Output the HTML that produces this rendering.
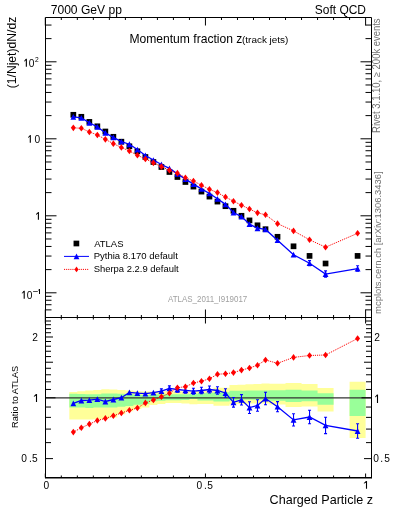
<!DOCTYPE html>
<html><head><meta charset="utf-8"><style>html,body{margin:0;padding:0;background:#fff;width:393px;height:512px;overflow:hidden}svg{display:block} text{-webkit-font-smoothing:antialiased}</style></head>
<body><svg width="393" height="512" viewBox="0 0 393 512">
<rect width="393" height="512" fill="#fff"/>
<path d="M69.32,391.90 L77.33,391.90 L77.33,391.30 L85.34,391.30 L85.34,390.60 L93.34,390.60 L93.34,390.10 L101.35,390.10 L101.35,389.30 L109.36,389.30 L109.36,389.50 L117.37,389.50 L117.37,389.90 L125.38,389.90 L125.38,390.40 L133.38,390.40 L133.38,391.20 L141.39,391.20 L141.39,391.50 L149.40,391.50 L149.40,391.50 L157.40,391.50 L157.41,391.30 L165.41,391.30 L165.41,391.20 L173.42,391.20 L173.42,391.20 L181.43,391.20 L181.43,391.20 L189.44,391.20 L189.44,391.20 L197.44,391.20 L197.44,390.50 L205.45,390.50 L205.45,390.50 L213.46,390.50 L213.46,387.70 L221.47,387.70 L221.47,387.70 L229.47,387.70 L229.47,385.10 L237.48,385.10 L237.48,384.70 L245.49,384.70 L245.49,384.20 L253.50,384.20 L253.50,384.00 L261.50,384.00 L261.50,383.60 L269.51,383.60 L269.51,383.70 L285.53,383.70 L285.53,383.00 L301.54,383.00 L301.54,384.00 L317.56,384.00 L317.56,388.00 L333.57,388.00 L333.57,411.50 L317.56,411.50 L317.56,406.60 L301.54,406.60 L301.54,407.00 L285.53,407.00 L285.53,404.40 L269.51,404.40 L269.51,403.60 L261.50,403.60 L261.50,403.60 L253.50,403.60 L253.50,403.60 L245.49,403.60 L245.49,404.00 L237.48,404.00 L237.48,404.30 L229.47,404.30 L229.47,405.70 L221.47,405.70 L221.47,405.70 L213.46,405.70 L213.46,404.00 L205.45,404.00 L205.45,404.00 L197.44,404.00 L197.44,404.20 L189.44,404.20 L189.44,403.40 L181.43,403.40 L181.43,402.90 L173.42,402.90 L173.42,402.90 L165.41,402.90 L165.41,403.90 L157.41,403.90 L157.40,404.90 L149.40,404.90 L149.40,407.40 L141.39,407.40 L141.39,409.00 L133.38,409.00 L133.38,411.20 L125.38,411.20 L125.38,414.30 L117.37,414.30 L117.37,417.50 L109.36,417.50 L109.36,418.80 L101.35,418.80 L101.35,419.20 L93.34,419.20 L93.34,419.40 L85.34,419.40 L85.34,419.40 L77.33,419.40 L77.33,419.40 L69.32,419.40ZM349.58,381.70 L365.60,381.70 L365.60,438.10 L349.58,438.10Z" fill="#ffff99"/>
<path d="M69.32,393.70 L77.33,393.70 L77.33,394.00 L85.34,394.00 L85.34,394.20 L93.34,394.20 L93.34,394.20 L101.35,394.20 L101.35,393.40 L109.36,393.40 L109.36,393.40 L117.37,393.40 L117.37,393.70 L125.38,393.70 L125.38,394.00 L133.38,394.00 L133.38,394.60 L141.39,394.60 L141.39,395.00 L149.40,395.00 L149.40,394.20 L157.40,394.20 L157.41,394.20 L165.41,394.20 L165.41,394.20 L173.42,394.20 L173.42,394.20 L181.43,394.20 L181.43,394.20 L189.44,394.20 L189.44,394.00 L197.44,394.00 L197.44,393.20 L205.45,393.20 L205.45,393.10 L213.46,393.10 L213.46,392.20 L221.47,392.20 L221.47,392.20 L229.47,392.20 L229.47,390.70 L237.48,390.70 L237.48,390.70 L245.49,390.70 L245.49,390.50 L253.50,390.50 L253.50,390.50 L261.50,390.50 L261.50,390.50 L269.51,390.50 L269.51,390.30 L285.53,390.30 L285.53,389.80 L301.54,389.80 L301.54,390.60 L317.56,390.60 L317.56,393.20 L333.57,393.20 L333.57,404.80 L317.56,404.80 L317.56,401.30 L301.54,401.30 L301.54,402.00 L285.53,402.00 L285.53,400.80 L269.51,400.80 L269.51,399.80 L261.50,399.80 L261.50,399.80 L253.50,399.80 L253.50,399.80 L245.49,399.80 L245.49,399.80 L237.48,399.80 L237.48,400.60 L229.47,400.60 L229.47,401.40 L221.47,401.40 L221.47,401.40 L213.46,401.40 L213.46,400.60 L205.45,400.60 L205.45,400.60 L197.44,400.60 L197.44,399.10 L189.44,399.10 L189.44,400.00 L181.43,400.00 L181.43,400.30 L173.42,400.30 L173.42,400.30 L165.41,400.30 L165.41,400.80 L157.41,400.80 L157.40,401.30 L149.40,401.30 L149.40,403.90 L141.39,403.90 L141.39,404.80 L133.38,404.80 L133.38,406.00 L125.38,406.00 L125.38,406.70 L117.37,406.70 L117.37,407.40 L109.36,407.40 L109.36,407.40 L101.35,407.40 L101.35,407.60 L93.34,407.60 L93.34,408.00 L85.34,408.00 L85.34,407.60 L77.33,407.60 L77.33,407.60 L69.32,407.60ZM349.58,389.80 L365.60,389.80 L365.60,416.00 L349.58,416.00Z" fill="#99ff99"/>
<line x1="45.5" y1="397.9" x2="371.5" y2="397.9" stroke="#333" stroke-width="1.25"/>
<path d="M45.5,309.88h6M371.5,309.88h-6M45.5,304.73h6M371.5,304.73h-6M45.5,300.26h6M371.5,300.26h-6M45.5,296.32h6M371.5,296.32h-6M45.5,292.80h11M371.5,292.80h-11M45.5,269.62h6M371.5,269.62h-6M45.5,256.06h6M371.5,256.06h-6M45.5,246.44h6M371.5,246.44h-6M45.5,238.98h6M371.5,238.98h-6M45.5,232.88h6M371.5,232.88h-6M45.5,227.73h6M371.5,227.73h-6M45.5,223.26h6M371.5,223.26h-6M45.5,219.32h6M371.5,219.32h-6M45.5,215.80h11M371.5,215.80h-11M45.5,192.62h6M371.5,192.62h-6M45.5,179.06h6M371.5,179.06h-6M45.5,169.44h6M371.5,169.44h-6M45.5,161.98h6M371.5,161.98h-6M45.5,155.88h6M371.5,155.88h-6M45.5,150.73h6M371.5,150.73h-6M45.5,146.26h6M371.5,146.26h-6M45.5,142.32h6M371.5,142.32h-6M45.5,138.80h11M371.5,138.80h-11M45.5,115.62h6M371.5,115.62h-6M45.5,102.06h6M371.5,102.06h-6M45.5,92.44h6M371.5,92.44h-6M45.5,84.98h6M371.5,84.98h-6M45.5,78.88h6M371.5,78.88h-6M45.5,73.73h6M371.5,73.73h-6M45.5,69.26h6M371.5,69.26h-6M45.5,65.32h6M371.5,65.32h-6M45.5,61.80h11M371.5,61.80h-11M45.5,38.62h6M371.5,38.62h-6M45.5,25.06h6M371.5,25.06h-6M45.5,458.61h7.5M371.5,458.61h-7.5M45.5,442.61h5.5M371.5,442.61h-5.5M45.5,429.09h5.5M371.5,429.09h-5.5M45.5,417.38h5.5M371.5,417.38h-5.5M45.5,407.04h5.5M371.5,407.04h-5.5M45.5,397.80h10M371.5,397.80h-10M45.5,389.44h5.5M371.5,389.44h-5.5M45.5,381.81h5.5M371.5,381.81h-5.5M45.5,374.78h5.5M371.5,374.78h-5.5M45.5,368.28h5.5M371.5,368.28h-5.5M45.5,362.23h7.5M371.5,362.23h-7.5M45.5,356.57h5.5M371.5,356.57h-5.5M45.5,351.25h5.5M371.5,351.25h-5.5M45.5,346.23h5.5M371.5,346.23h-5.5M45.5,341.49h5.5M371.5,341.49h-5.5M45.5,336.99h7.5M371.5,336.99h-7.5M45.5,332.71h5.5M371.5,332.71h-5.5M45.5,328.63h5.5M371.5,328.63h-5.5M45.5,324.73h5.5M371.5,324.73h-5.5M45.5,321.00h5.5M371.5,321.00h-5.5M45.30,17.5v8M45.30,317.5v-8M45.30,317.5v6M45.30,477.5v-4M61.31,17.5v2.5M61.31,317.5v-2.5M61.31,317.5v2M61.31,477.5v-2M77.33,17.5v2.5M77.33,317.5v-2.5M77.33,317.5v2M77.33,477.5v-2M93.34,17.5v2.5M93.34,317.5v-2.5M93.34,317.5v2M93.34,477.5v-2M109.36,17.5v2.5M109.36,317.5v-2.5M109.36,317.5v2M109.36,477.5v-2M125.38,17.5v2.5M125.38,317.5v-2.5M125.38,317.5v2M125.38,477.5v-2M141.39,17.5v2.5M141.39,317.5v-2.5M141.39,317.5v2M141.39,477.5v-2M157.41,17.5v2.5M157.41,317.5v-2.5M157.41,317.5v2M157.41,477.5v-2M173.42,17.5v2.5M173.42,317.5v-2.5M173.42,317.5v2M173.42,477.5v-2M189.44,17.5v2.5M189.44,317.5v-2.5M189.44,317.5v2M189.44,477.5v-2M205.45,17.5v8M205.45,317.5v-8M205.45,317.5v6M205.45,477.5v-4M221.47,17.5v2.5M221.47,317.5v-2.5M221.47,317.5v2M221.47,477.5v-2M237.48,17.5v2.5M237.48,317.5v-2.5M237.48,317.5v2M237.48,477.5v-2M253.50,17.5v2.5M253.50,317.5v-2.5M253.50,317.5v2M253.50,477.5v-2M269.51,17.5v2.5M269.51,317.5v-2.5M269.51,317.5v2M269.51,477.5v-2M285.53,17.5v2.5M285.53,317.5v-2.5M285.53,317.5v2M285.53,477.5v-2M301.54,17.5v2.5M301.54,317.5v-2.5M301.54,317.5v2M301.54,477.5v-2M317.56,17.5v2.5M317.56,317.5v-2.5M317.56,317.5v2M317.56,477.5v-2M333.57,17.5v2.5M333.57,317.5v-2.5M333.57,317.5v2M333.57,477.5v-2M349.59,17.5v2.5M349.59,317.5v-2.5M349.59,317.5v2M349.59,477.5v-2M365.60,17.5v8M365.60,317.5v-8M365.60,317.5v6M365.60,477.5v-4" stroke="#000" stroke-width="1" fill="none"/>
<path d="M45.5,17.5H371.5V478.1M45.5,17.5V478.1 M45.5,317.5H371.5" stroke="#000" stroke-width="1" fill="none"/>
<path d="M45.0,477.85H372.0" stroke="#000" stroke-width="1.5" fill="none"/>
<path d="M73.33,403.40 L81.33,400.50 L89.34,400.10 L97.35,399.10 L105.36,401.50 L113.36,399.50 L121.37,397.70 L129.38,392.40 L137.39,393.20 L145.39,393.70 L153.40,392.70 L161.41,391.20 L169.42,388.30 L177.42,389.50 L185.43,390.30 L193.44,391.20 L201.45,390.50 L209.45,389.50 L217.46,390.50 L225.47,393.00 L233.48,402.30 L241.48,399.80 L249.49,407.60 L257.50,405.50 L265.51,398.50 L277.52,406.70 L293.53,419.90 L309.55,417.00 L325.56,425.40 L357.59,431.00" stroke="#0000ff" stroke-width="1.3" fill="none"/>
<path d="M161.41,388.90V393.50M159.91,388.90h3M159.91,393.50h3" stroke="#0000ff" stroke-width="1.1" fill="none"/>
<path d="M169.42,385.90V390.70M167.92,385.90h3M167.92,390.70h3" stroke="#0000ff" stroke-width="1.1" fill="none"/>
<path d="M177.42,386.90V392.10M175.92,386.90h3M175.92,392.10h3" stroke="#0000ff" stroke-width="1.1" fill="none"/>
<path d="M185.43,387.50V393.10M183.93,387.50h3M183.93,393.10h3" stroke="#0000ff" stroke-width="1.1" fill="none"/>
<path d="M193.44,388.20V394.20M191.94,388.20h3M191.94,394.20h3" stroke="#0000ff" stroke-width="1.1" fill="none"/>
<path d="M201.45,387.20V393.80M199.95,387.20h3M199.95,393.80h3" stroke="#0000ff" stroke-width="1.1" fill="none"/>
<path d="M209.45,386.00V393.00M207.95,386.00h3M207.95,393.00h3" stroke="#0000ff" stroke-width="1.1" fill="none"/>
<path d="M217.46,386.70V394.30M215.96,386.70h3M215.96,394.30h3" stroke="#0000ff" stroke-width="1.1" fill="none"/>
<path d="M225.47,388.70V397.30M223.97,388.70h3M223.97,397.30h3" stroke="#0000ff" stroke-width="1.1" fill="none"/>
<path d="M233.48,397.50V407.10M231.98,397.50h3M231.98,407.10h3" stroke="#0000ff" stroke-width="1.1" fill="none"/>
<path d="M241.48,394.60V405.00M239.98,394.60h3M239.98,405.00h3" stroke="#0000ff" stroke-width="1.1" fill="none"/>
<path d="M249.49,401.70V413.50M247.99,401.70h3M247.99,413.50h3" stroke="#0000ff" stroke-width="1.1" fill="none"/>
<path d="M257.50,399.80V411.20M256.00,399.80h3M256.00,411.20h3" stroke="#0000ff" stroke-width="1.1" fill="none"/>
<path d="M265.51,392.30V404.70M264.01,392.30h3M264.01,404.70h3" stroke="#0000ff" stroke-width="1.1" fill="none"/>
<path d="M277.52,401.60V411.80M276.02,401.60h3M276.02,411.80h3" stroke="#0000ff" stroke-width="1.1" fill="none"/>
<path d="M293.53,413.80V426.00M292.03,413.80h3M292.03,426.00h3" stroke="#0000ff" stroke-width="1.1" fill="none"/>
<path d="M309.55,410.20V423.80M308.05,410.20h3M308.05,423.80h3" stroke="#0000ff" stroke-width="1.1" fill="none"/>
<path d="M325.56,417.20V433.60M324.06,417.20h3M324.06,433.60h3" stroke="#0000ff" stroke-width="1.1" fill="none"/>
<path d="M357.59,423.80V438.20M356.09,423.80h3M356.09,438.20h3" stroke="#0000ff" stroke-width="1.1" fill="none"/>
<path d="M70.43,406.30L76.23,406.30L73.33,400.50Z" fill="#0000ff"/>
<path d="M78.43,403.40L84.23,403.40L81.33,397.60Z" fill="#0000ff"/>
<path d="M86.44,403.00L92.24,403.00L89.34,397.20Z" fill="#0000ff"/>
<path d="M94.45,402.00L100.25,402.00L97.35,396.20Z" fill="#0000ff"/>
<path d="M102.46,404.40L108.26,404.40L105.36,398.60Z" fill="#0000ff"/>
<path d="M110.46,402.40L116.26,402.40L113.36,396.60Z" fill="#0000ff"/>
<path d="M118.47,400.60L124.27,400.60L121.37,394.80Z" fill="#0000ff"/>
<path d="M126.48,395.30L132.28,395.30L129.38,389.50Z" fill="#0000ff"/>
<path d="M134.49,396.10L140.29,396.10L137.39,390.30Z" fill="#0000ff"/>
<path d="M142.49,396.60L148.29,396.60L145.39,390.80Z" fill="#0000ff"/>
<path d="M150.50,395.60L156.30,395.60L153.40,389.80Z" fill="#0000ff"/>
<path d="M158.51,394.10L164.31,394.10L161.41,388.30Z" fill="#0000ff"/>
<path d="M166.52,391.20L172.32,391.20L169.42,385.40Z" fill="#0000ff"/>
<path d="M174.52,392.40L180.32,392.40L177.42,386.60Z" fill="#0000ff"/>
<path d="M182.53,393.20L188.33,393.20L185.43,387.40Z" fill="#0000ff"/>
<path d="M190.54,394.10L196.34,394.10L193.44,388.30Z" fill="#0000ff"/>
<path d="M198.55,393.40L204.35,393.40L201.45,387.60Z" fill="#0000ff"/>
<path d="M206.55,392.40L212.35,392.40L209.45,386.60Z" fill="#0000ff"/>
<path d="M214.56,393.40L220.36,393.40L217.46,387.60Z" fill="#0000ff"/>
<path d="M222.57,395.90L228.37,395.90L225.47,390.10Z" fill="#0000ff"/>
<path d="M230.58,405.20L236.38,405.20L233.48,399.40Z" fill="#0000ff"/>
<path d="M238.58,402.70L244.38,402.70L241.48,396.90Z" fill="#0000ff"/>
<path d="M246.59,410.50L252.39,410.50L249.49,404.70Z" fill="#0000ff"/>
<path d="M254.60,408.40L260.40,408.40L257.50,402.60Z" fill="#0000ff"/>
<path d="M262.61,401.40L268.41,401.40L265.51,395.60Z" fill="#0000ff"/>
<path d="M274.62,409.60L280.42,409.60L277.52,403.80Z" fill="#0000ff"/>
<path d="M290.63,422.80L296.43,422.80L293.53,417.00Z" fill="#0000ff"/>
<path d="M306.65,419.90L312.45,419.90L309.55,414.10Z" fill="#0000ff"/>
<path d="M322.66,428.30L328.46,428.30L325.56,422.50Z" fill="#0000ff"/>
<path d="M354.69,433.90L360.49,433.90L357.59,428.10Z" fill="#0000ff"/>
<path d="M73.33,432.10 L81.33,427.80 L89.34,424.10 L97.35,420.50 L105.36,418.40 L113.36,415.80 L121.37,413.00 L129.38,410.30 L137.39,408.00 L145.39,402.90 L153.40,400.00 L161.41,396.80 L169.42,393.20 L177.42,387.70 L185.43,386.70 L193.44,383.00 L201.45,381.20 L209.45,378.80 L217.46,374.20 L225.47,373.80 L233.48,372.60 L241.48,370.10 L249.49,368.00 L257.50,365.20 L265.51,360.00 L277.52,363.30 L293.53,357.40 L309.55,355.50 L325.56,355.00 L357.59,338.50" stroke="#ff0000" stroke-width="1" stroke-dasharray="1.1,1" fill="none"/>
<path d="M73.33,428.80L75.83,432.10L73.33,435.40L70.83,432.10Z" fill="#ff0000"/>
<path d="M81.33,424.50L83.83,427.80L81.33,431.10L78.83,427.80Z" fill="#ff0000"/>
<path d="M89.34,420.80L91.84,424.10L89.34,427.40L86.84,424.10Z" fill="#ff0000"/>
<path d="M97.35,417.20L99.85,420.50L97.35,423.80L94.85,420.50Z" fill="#ff0000"/>
<path d="M105.36,415.10L107.86,418.40L105.36,421.70L102.86,418.40Z" fill="#ff0000"/>
<path d="M113.36,412.50L115.86,415.80L113.36,419.10L110.86,415.80Z" fill="#ff0000"/>
<path d="M121.37,409.70L123.87,413.00L121.37,416.30L118.87,413.00Z" fill="#ff0000"/>
<path d="M129.38,407.00L131.88,410.30L129.38,413.60L126.88,410.30Z" fill="#ff0000"/>
<path d="M137.39,404.70L139.89,408.00L137.39,411.30L134.89,408.00Z" fill="#ff0000"/>
<path d="M145.39,399.60L147.89,402.90L145.39,406.20L142.89,402.90Z" fill="#ff0000"/>
<path d="M153.40,396.70L155.90,400.00L153.40,403.30L150.90,400.00Z" fill="#ff0000"/>
<path d="M161.41,393.50L163.91,396.80L161.41,400.10L158.91,396.80Z" fill="#ff0000"/>
<path d="M169.42,389.90L171.92,393.20L169.42,396.50L166.92,393.20Z" fill="#ff0000"/>
<path d="M177.42,384.40L179.92,387.70L177.42,391.00L174.92,387.70Z" fill="#ff0000"/>
<path d="M185.43,383.40L187.93,386.70L185.43,390.00L182.93,386.70Z" fill="#ff0000"/>
<path d="M193.44,379.70L195.94,383.00L193.44,386.30L190.94,383.00Z" fill="#ff0000"/>
<path d="M201.45,377.90L203.95,381.20L201.45,384.50L198.95,381.20Z" fill="#ff0000"/>
<path d="M209.45,375.50L211.95,378.80L209.45,382.10L206.95,378.80Z" fill="#ff0000"/>
<path d="M217.46,370.90L219.96,374.20L217.46,377.50L214.96,374.20Z" fill="#ff0000"/>
<path d="M225.47,370.50L227.97,373.80L225.47,377.10L222.97,373.80Z" fill="#ff0000"/>
<path d="M233.48,369.30L235.98,372.60L233.48,375.90L230.98,372.60Z" fill="#ff0000"/>
<path d="M241.48,366.80L243.98,370.10L241.48,373.40L238.98,370.10Z" fill="#ff0000"/>
<path d="M249.49,364.70L251.99,368.00L249.49,371.30L246.99,368.00Z" fill="#ff0000"/>
<path d="M257.50,361.90L260.00,365.20L257.50,368.50L255.00,365.20Z" fill="#ff0000"/>
<path d="M265.51,356.70L268.01,360.00L265.51,363.30L263.01,360.00Z" fill="#ff0000"/>
<path d="M277.52,360.00L280.02,363.30L277.52,366.60L275.02,363.30Z" fill="#ff0000"/>
<path d="M293.53,354.10L296.03,357.40L293.53,360.70L291.03,357.40Z" fill="#ff0000"/>
<path d="M309.55,352.20L312.05,355.50L309.55,358.80L307.05,355.50Z" fill="#ff0000"/>
<path d="M325.56,351.70L328.06,355.00L325.56,358.30L323.06,355.00Z" fill="#ff0000"/>
<path d="M357.59,335.20L360.09,338.50L357.59,341.80L355.09,338.50Z" fill="#ff0000"/>
<rect x="70.48" y="111.95" width="5.70" height="5.70" fill="#000"/>
<rect x="78.48" y="113.95" width="5.70" height="5.70" fill="#000"/>
<rect x="86.49" y="119.05" width="5.70" height="5.70" fill="#000"/>
<rect x="94.50" y="123.45" width="5.70" height="5.70" fill="#000"/>
<rect x="102.51" y="128.65" width="5.70" height="5.70" fill="#000"/>
<rect x="110.51" y="133.95" width="5.70" height="5.70" fill="#000"/>
<rect x="118.52" y="138.85" width="5.70" height="5.70" fill="#000"/>
<rect x="126.53" y="143.45" width="5.70" height="5.70" fill="#000"/>
<rect x="134.54" y="148.45" width="5.70" height="5.70" fill="#000"/>
<rect x="142.54" y="154.15" width="5.70" height="5.70" fill="#000"/>
<rect x="150.55" y="159.15" width="5.70" height="5.70" fill="#000"/>
<rect x="158.56" y="164.15" width="5.70" height="5.70" fill="#000"/>
<rect x="166.57" y="169.15" width="5.70" height="5.70" fill="#000"/>
<rect x="174.57" y="174.15" width="5.70" height="5.70" fill="#000"/>
<rect x="182.58" y="179.15" width="5.70" height="5.70" fill="#000"/>
<rect x="190.59" y="183.75" width="5.70" height="5.70" fill="#000"/>
<rect x="198.60" y="188.75" width="5.70" height="5.70" fill="#000"/>
<rect x="206.60" y="193.75" width="5.70" height="5.70" fill="#000"/>
<rect x="214.61" y="198.75" width="5.70" height="5.70" fill="#000"/>
<rect x="222.62" y="203.35" width="5.70" height="5.70" fill="#000"/>
<rect x="230.63" y="207.95" width="5.70" height="5.70" fill="#000"/>
<rect x="238.63" y="212.95" width="5.70" height="5.70" fill="#000"/>
<rect x="246.64" y="217.55" width="5.70" height="5.70" fill="#000"/>
<rect x="254.65" y="222.45" width="5.70" height="5.70" fill="#000"/>
<rect x="262.66" y="226.35" width="5.70" height="5.70" fill="#000"/>
<rect x="274.67" y="233.95" width="5.70" height="5.70" fill="#000"/>
<rect x="290.68" y="243.45" width="5.70" height="5.70" fill="#000"/>
<rect x="306.70" y="253.05" width="5.70" height="5.70" fill="#000"/>
<rect x="322.71" y="260.65" width="5.70" height="5.70" fill="#000"/>
<rect x="354.74" y="253.05" width="5.70" height="5.70" fill="#000"/>
<path d="M73.33,116.93 L81.33,117.83 L89.34,122.78 L97.35,126.80 L105.36,132.91 L113.36,137.45 L121.37,141.66 L129.38,144.24 L137.39,149.55 L145.39,155.44 L153.40,160.06 L161.41,164.48 L169.42,168.38 L177.42,173.84 L185.43,179.14 L193.44,184.08 L201.45,188.82 L209.45,193.44 L217.46,198.82 L225.47,204.37 L233.48,212.52 L241.48,216.56 L249.49,224.14 L257.50,228.24 L265.51,229.47 L277.52,240.19 L293.53,254.72 L309.55,263.22 L325.56,274.02 L357.59,268.56" stroke="#0000ff" stroke-width="1.3" fill="none"/>
<path d="M309.55,260.63V265.81M308.05,260.63h3M308.05,265.81h3" stroke="#0000ff" stroke-width="1.1" fill="none"/>
<path d="M325.56,270.90V277.15M324.06,270.90h3M324.06,277.15h3" stroke="#0000ff" stroke-width="1.1" fill="none"/>
<path d="M357.59,265.81V271.30M356.09,265.81h3M356.09,271.30h3" stroke="#0000ff" stroke-width="1.1" fill="none"/>
<path d="M70.43,119.83L76.23,119.83L73.33,114.03Z" fill="#0000ff"/>
<path d="M78.43,120.73L84.23,120.73L81.33,114.93Z" fill="#0000ff"/>
<path d="M86.44,125.68L92.24,125.68L89.34,119.88Z" fill="#0000ff"/>
<path d="M94.45,129.70L100.25,129.70L97.35,123.90Z" fill="#0000ff"/>
<path d="M102.46,135.81L108.26,135.81L105.36,130.01Z" fill="#0000ff"/>
<path d="M110.46,140.35L116.26,140.35L113.36,134.55Z" fill="#0000ff"/>
<path d="M118.47,144.56L124.27,144.56L121.37,138.76Z" fill="#0000ff"/>
<path d="M126.48,147.14L132.28,147.14L129.38,141.34Z" fill="#0000ff"/>
<path d="M134.49,152.45L140.29,152.45L137.39,146.65Z" fill="#0000ff"/>
<path d="M142.49,158.34L148.29,158.34L145.39,152.54Z" fill="#0000ff"/>
<path d="M150.50,162.96L156.30,162.96L153.40,157.16Z" fill="#0000ff"/>
<path d="M158.51,167.38L164.31,167.38L161.41,161.58Z" fill="#0000ff"/>
<path d="M166.52,171.28L172.32,171.28L169.42,165.48Z" fill="#0000ff"/>
<path d="M174.52,176.74L180.32,176.74L177.42,170.94Z" fill="#0000ff"/>
<path d="M182.53,182.04L188.33,182.04L185.43,176.24Z" fill="#0000ff"/>
<path d="M190.54,186.98L196.34,186.98L193.44,181.18Z" fill="#0000ff"/>
<path d="M198.55,191.72L204.35,191.72L201.45,185.92Z" fill="#0000ff"/>
<path d="M206.55,196.34L212.35,196.34L209.45,190.54Z" fill="#0000ff"/>
<path d="M214.56,201.72L220.36,201.72L217.46,195.92Z" fill="#0000ff"/>
<path d="M222.57,207.27L228.37,207.27L225.47,201.47Z" fill="#0000ff"/>
<path d="M230.58,215.42L236.38,215.42L233.48,209.62Z" fill="#0000ff"/>
<path d="M238.58,219.46L244.38,219.46L241.48,213.66Z" fill="#0000ff"/>
<path d="M246.59,227.04L252.39,227.04L249.49,221.24Z" fill="#0000ff"/>
<path d="M254.60,231.14L260.40,231.14L257.50,225.34Z" fill="#0000ff"/>
<path d="M262.61,232.37L268.41,232.37L265.51,226.57Z" fill="#0000ff"/>
<path d="M274.62,243.09L280.42,243.09L277.52,237.29Z" fill="#0000ff"/>
<path d="M290.63,257.62L296.43,257.62L293.53,251.82Z" fill="#0000ff"/>
<path d="M306.65,266.12L312.45,266.12L309.55,260.32Z" fill="#0000ff"/>
<path d="M322.66,276.92L328.46,276.92L325.56,271.12Z" fill="#0000ff"/>
<path d="M354.69,271.46L360.49,271.46L357.59,265.66Z" fill="#0000ff"/>
<path d="M73.33,127.87 L81.33,128.24 L89.34,131.93 L97.35,134.95 L105.36,139.35 L113.36,143.66 L121.37,147.49 L129.38,151.06 L137.39,155.19 L145.39,158.94 L153.40,162.84 L161.41,166.62 L169.42,170.25 L177.42,173.15 L185.43,177.77 L193.44,180.96 L201.45,185.27 L209.45,189.36 L217.46,192.60 L225.47,197.05 L233.48,201.19 L241.48,205.24 L249.49,209.04 L257.50,212.87 L265.51,214.79 L277.52,223.65 L293.53,230.90 L309.55,239.78 L325.56,247.19 L357.59,233.30" stroke="#ff0000" stroke-width="1" stroke-dasharray="1.1,1" fill="none"/>
<path d="M73.33,124.57L75.83,127.87L73.33,131.17L70.83,127.87Z" fill="#ff0000"/>
<path d="M81.33,124.94L83.83,128.24L81.33,131.54L78.83,128.24Z" fill="#ff0000"/>
<path d="M89.34,128.63L91.84,131.93L89.34,135.23L86.84,131.93Z" fill="#ff0000"/>
<path d="M97.35,131.65L99.85,134.95L97.35,138.25L94.85,134.95Z" fill="#ff0000"/>
<path d="M105.36,136.05L107.86,139.35L105.36,142.65L102.86,139.35Z" fill="#ff0000"/>
<path d="M113.36,140.36L115.86,143.66L113.36,146.96L110.86,143.66Z" fill="#ff0000"/>
<path d="M121.37,144.19L123.87,147.49L121.37,150.79L118.87,147.49Z" fill="#ff0000"/>
<path d="M129.38,147.76L131.88,151.06L129.38,154.36L126.88,151.06Z" fill="#ff0000"/>
<path d="M137.39,151.89L139.89,155.19L137.39,158.49L134.89,155.19Z" fill="#ff0000"/>
<path d="M145.39,155.64L147.89,158.94L145.39,162.24L142.89,158.94Z" fill="#ff0000"/>
<path d="M153.40,159.54L155.90,162.84L153.40,166.14L150.90,162.84Z" fill="#ff0000"/>
<path d="M161.41,163.32L163.91,166.62L161.41,169.92L158.91,166.62Z" fill="#ff0000"/>
<path d="M169.42,166.95L171.92,170.25L169.42,173.55L166.92,170.25Z" fill="#ff0000"/>
<path d="M177.42,169.85L179.92,173.15L177.42,176.45L174.92,173.15Z" fill="#ff0000"/>
<path d="M185.43,174.47L187.93,177.77L185.43,181.07L182.93,177.77Z" fill="#ff0000"/>
<path d="M193.44,177.66L195.94,180.96L193.44,184.26L190.94,180.96Z" fill="#ff0000"/>
<path d="M201.45,181.97L203.95,185.27L201.45,188.57L198.95,185.27Z" fill="#ff0000"/>
<path d="M209.45,186.06L211.95,189.36L209.45,192.66L206.95,189.36Z" fill="#ff0000"/>
<path d="M217.46,189.30L219.96,192.60L217.46,195.90L214.96,192.60Z" fill="#ff0000"/>
<path d="M225.47,193.75L227.97,197.05L225.47,200.35L222.97,197.05Z" fill="#ff0000"/>
<path d="M233.48,197.89L235.98,201.19L233.48,204.49L230.98,201.19Z" fill="#ff0000"/>
<path d="M241.48,201.94L243.98,205.24L241.48,208.54L238.98,205.24Z" fill="#ff0000"/>
<path d="M249.49,205.74L251.99,209.04L249.49,212.34L246.99,209.04Z" fill="#ff0000"/>
<path d="M257.50,209.57L260.00,212.87L257.50,216.17L255.00,212.87Z" fill="#ff0000"/>
<path d="M265.51,211.49L268.01,214.79L265.51,218.09L263.01,214.79Z" fill="#ff0000"/>
<path d="M277.52,220.35L280.02,223.65L277.52,226.95L275.02,223.65Z" fill="#ff0000"/>
<path d="M293.53,227.60L296.03,230.90L293.53,234.20L291.03,230.90Z" fill="#ff0000"/>
<path d="M309.55,236.48L312.05,239.78L309.55,243.08L307.05,239.78Z" fill="#ff0000"/>
<path d="M325.56,243.89L328.06,247.19L325.56,250.49L323.06,247.19Z" fill="#ff0000"/>
<path d="M357.59,230.00L360.09,233.30L357.59,236.60L355.09,233.30Z" fill="#ff0000"/>
<rect x="73.55" y="240.65" width="5.70" height="5.70" fill="#000"/>
<line x1="64" y1="256.4" x2="89" y2="256.4" stroke="#0000ff" stroke-width="1"/>
<path d="M73.60,259.30L79.40,259.30L76.50,253.50Z" fill="#0000ff"/>
<line x1="64" y1="269.4" x2="89" y2="269.4" stroke="#ff0000" stroke-width="1" stroke-dasharray="1.1,1"/>
<path d="M76.50,266.60L78.50,269.40L76.50,272.20L74.50,269.40Z" fill="#ff0000"/>
<g font-family="&quot;Liberation Sans&quot;, sans-serif" style="will-change:transform">
<text x="50.7" y="13.5" font-size="12.35" fill="#000" text-anchor="start" textLength="71.2" lengthAdjust="spacingAndGlyphs" >7000 GeV pp</text>
<text x="366.0" y="13.5" font-size="12.35" fill="#000" text-anchor="end" textLength="51.2" lengthAdjust="spacingAndGlyphs" >Soft QCD</text>
<text x="129.4" y="42.6" font-size="12.1" fill="#000" text-anchor="start" textLength="113.0" lengthAdjust="spacingAndGlyphs" >Momentum fraction z</text>
<text x="242.0" y="42.8" font-size="9.2" fill="#000" text-anchor="start" textLength="46.4" lengthAdjust="spacingAndGlyphs" >(track jets)</text>
<text x="94.2" y="246.8" font-size="9.1" fill="#000" text-anchor="start" textLength="29.3" lengthAdjust="spacingAndGlyphs" >ATLAS</text>
<text x="93.7" y="259.2" font-size="9.1" fill="#000" text-anchor="start" textLength="84.2" lengthAdjust="spacingAndGlyphs" >Pythia 8.170 default</text>
<text x="93.7" y="271.8" font-size="9.1" fill="#000" text-anchor="start" textLength="85.0" lengthAdjust="spacingAndGlyphs" >Sherpa 2.2.9 default</text>
<text x="168" y="302" font-size="8.4" fill="#a0a0a0" text-anchor="start" textLength="79.3" lengthAdjust="spacingAndGlyphs" >ATLAS_2011_I919017</text>
<text x="269.6" y="504.0" font-size="13.3" fill="#000" text-anchor="start" textLength="103.4" lengthAdjust="spacingAndGlyphs" >Charged Particle z</text>
<text transform="translate(46.25,489.00) scale(0.88,1)" x="-3.22" y="0" font-size="11.6">0</text>
<text transform="translate(199.35,489.00) scale(0.88,1)" x="-3.22" y="0" font-size="11.6">0</text>
<text transform="translate(205.30,489.00) scale(0.88,1)" x="-1.61" y="0" font-size="11.6">.</text>
<text transform="translate(210.00,489.00) scale(0.88,1)" x="-3.21" y="0" font-size="11.6">5</text>
<path d="M365.95,488.70V481.29L366.50,480.90H367.05V488.70ZM365.95,481.06L364.20,482.77L363.90,482.85L363.90,483.79L365.95,482.46Z" fill="#000"/>
<text transform="translate(35.00,340.60) scale(0.88,1)" x="-3.22" y="0" font-size="11.6">2</text>
<path d="M35.95,402.00V394.30L36.50,393.90H37.05V402.00ZM35.95,394.06L34.20,395.84L33.90,395.92L33.90,396.90L35.95,395.52Z" fill="#000"/>
<text transform="translate(24.15,462.20) scale(0.88,1)" x="-3.22" y="0" font-size="11.6">0</text>
<text transform="translate(30.40,462.20) scale(0.88,1)" x="-1.61" y="0" font-size="11.6">.</text>
<text transform="translate(34.75,462.20) scale(0.88,1)" x="-3.21" y="0" font-size="11.6">5</text>
<text transform="translate(377.05,340.80) scale(0.88,1)" x="-3.22" y="0" font-size="11.6">2</text>
<path d="M376.95,403.00V394.83L377.50,394.40H378.05V403.00ZM376.95,394.57L375.30,396.46L375.00,396.55L375.00,397.58L376.95,396.12Z" fill="#000"/>
<text transform="translate(376.10,462.30) scale(0.88,1)" x="-3.22" y="0" font-size="11.6">0</text>
<text transform="translate(381.60,462.30) scale(0.88,1)" x="-1.61" y="0" font-size="11.6">.</text>
<text transform="translate(387.10,462.30) scale(0.88,1)" x="-3.21" y="0" font-size="11.6">5</text>
<path d="M37.85,219.80V212.39L38.40,212.00H38.95V219.80ZM37.85,212.16L36.30,213.87L36.00,213.95L36.00,214.89L37.85,213.56Z" fill="#000"/>
<path d="M29.75,142.70V135.48L30.30,135.10H30.85V142.70ZM29.75,135.25L28.30,136.92L28.00,137.00L28.00,137.91L29.75,136.62Z" fill="#000"/>
<text transform="translate(37.40,142.80) scale(0.88,1)" x="-3.22" y="0" font-size="11.6">0</text>
<path d="M25.80,66.80V59.11L26.35,58.70H26.90V66.80ZM25.80,58.86L24.40,60.64L24.10,60.73L24.10,61.70L25.80,60.32Z" fill="#000"/>
<text transform="translate(31.50,66.90) scale(0.88,1)" x="-3.22" y="0" font-size="11.6">0</text>
<text transform="translate(36.90,61.90) scale(0.88,1)" x="-2.11" y="0" font-size="7.6">2</text>
<path d="M23.65,298.80V291.11L24.20,290.70H24.75V298.80ZM23.65,290.86L22.20,292.64L21.90,292.73L21.90,293.70L23.65,292.32Z" fill="#000"/>
<text transform="translate(29.60,298.90) scale(0.88,1)" x="-3.22" y="0" font-size="11.6">0</text>
<rect x="33.1" y="291.2" width="4.7" height="0.8" fill="#222"/>
<path d="M39.00,293.90V289.25L39.50,289.00H40.00V293.90ZM39.00,289.10L38.30,290.18L38.00,290.23L38.00,290.81L39.00,289.98Z" fill="#000"/>
<text transform="translate(16.4,88.3) rotate(-90)" font-size="12.3" textLength="71.6" lengthAdjust="spacingAndGlyphs">(1/Njet)dN/dz</text>
<text transform="translate(18.0,427.9) rotate(-90)" font-size="9.6" textLength="62.1" lengthAdjust="spacingAndGlyphs">Ratio to ATLAS</text>
<text transform="translate(380.3,132.9) rotate(-90)" font-size="10" fill="#707070" textLength="114.5" lengthAdjust="spacingAndGlyphs">Rivet 3.1.10, ≥ 200k events</text>
<text transform="translate(380.6,313.9) rotate(-90)" font-size="9.8" fill="#707070" textLength="142.5" lengthAdjust="spacingAndGlyphs">mcplots.cern.ch [arXiv:1306.3436]</text>
</g>
</svg></body></html>
